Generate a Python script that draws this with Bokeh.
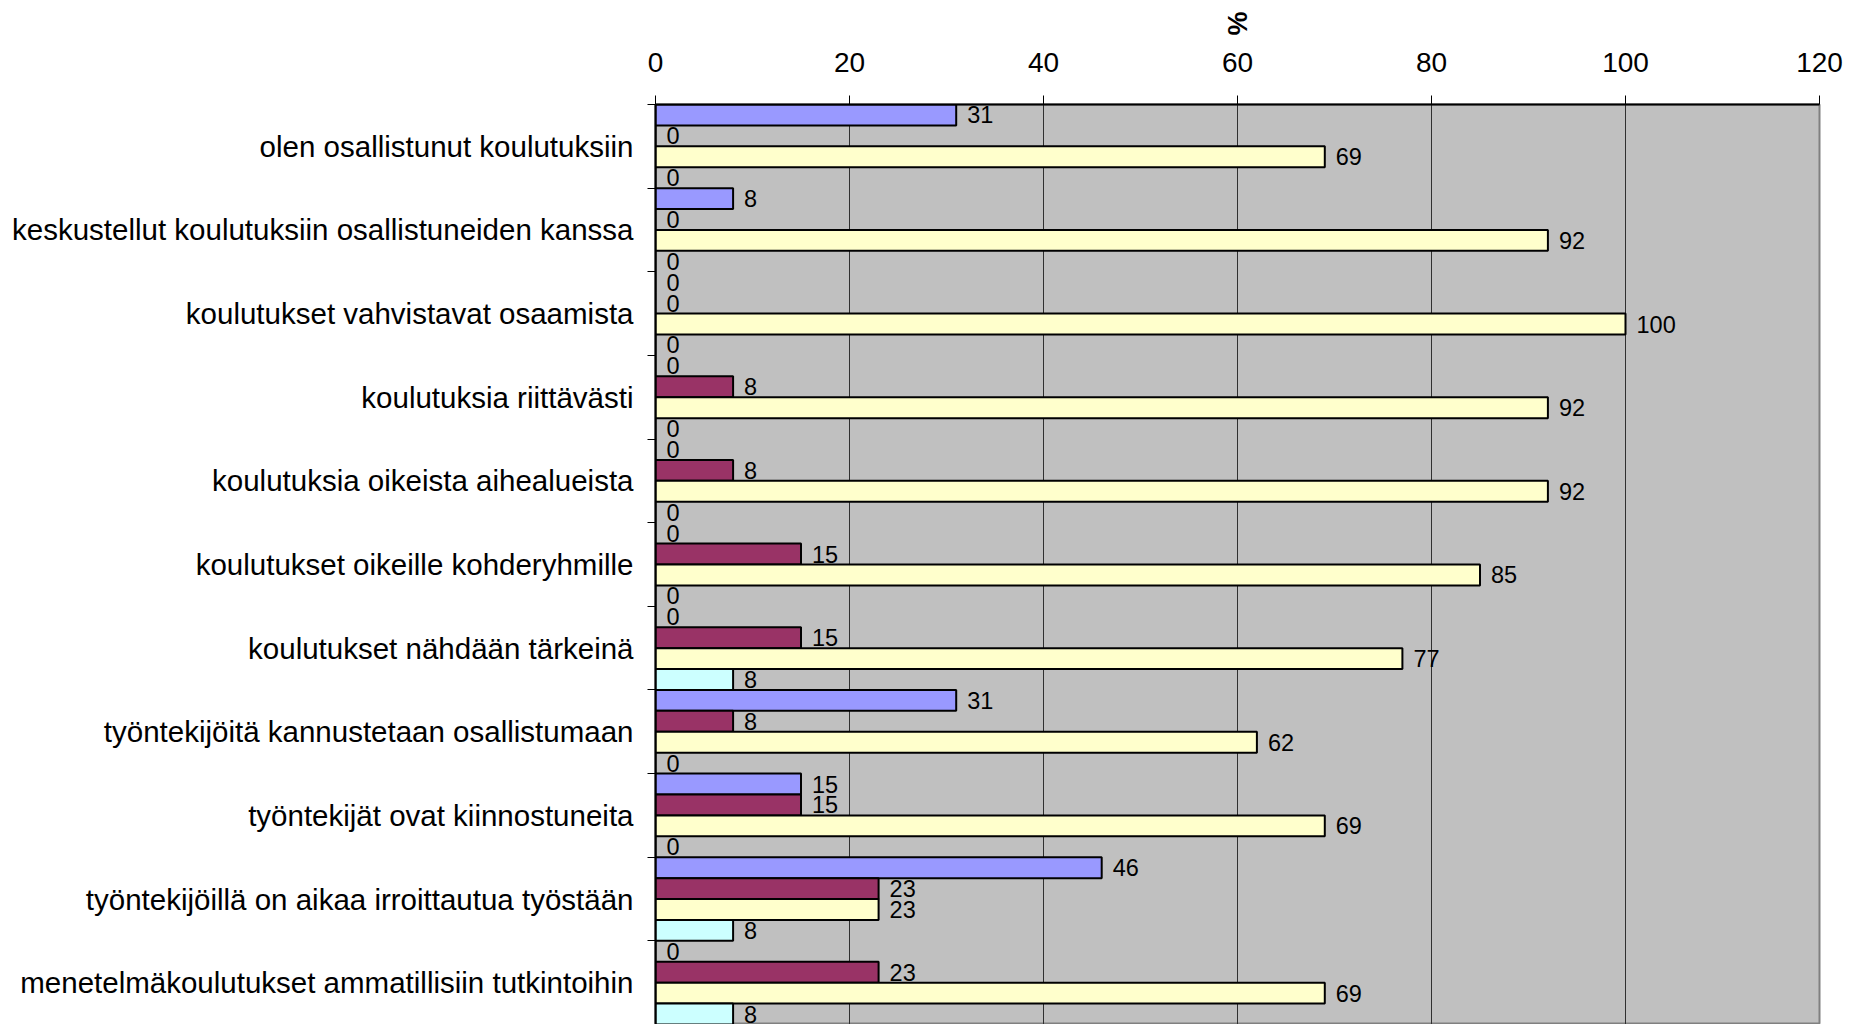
from bokeh.core.properties import value
from bokeh.embed import file_html
from bokeh.models import ColumnDataSource, FixedTicker, Range1d
from bokeh.plotting import figure
from bokeh.resources import INLINE

# Survey statements (top to bottom) and the four answer series, in percent
categories = [
    "olen osallistunut koulutuksiin",
    "keskustellut koulutuksiin osallistuneiden kanssa",
    "koulutukset vahvistavat osaamista",
    "koulutuksia riittävästi",
    "koulutuksia oikeista aihealueista",
    "koulutukset oikeille kohderyhmille",
    "koulutukset nähdään tärkeinä",
    "työntekijöitä kannustetaan osallistumaan",
    "työntekijät ovat kiinnostuneita",
    "työntekijöillä on aikaa irroittautua työstään",
    "menetelmäkoulutukset ammatillisiin tutkintoihin",
]
series_1 = [31, 8, 0, 0, 0, 0, 0, 31, 15, 46, 0]
series_2 = [0, 0, 0, 8, 8, 15, 15, 8, 15, 23, 23]
series_3 = [69, 92, 100, 92, 92, 85, 77, 62, 69, 23, 69]
series_4 = [0, 0, 0, 0, 0, 0, 8, 0, 0, 8, 8]
x_ticks = [0, 20, 40, 60, 80, 100, 120]

series = [series_1, series_2, series_3, series_4]
colors = ["#9999FF", "#993366", "#FFFFCC", "#CCFFFF"]
n_cat = len(categories)
n_ser = len(series)
slot = 1.0 / n_ser

FONT = value("Liberation Sans")

p = figure(
    width=1866,
    height=1024,
    x_range=Range1d(0, 120),
    y_range=Range1d(n_cat, 0),
    x_axis_location="above",
    output_backend="svg",
    toolbar_location=None,
    min_border_top=104,
    min_border_left=655,
    min_border_right=47,
    min_border_bottom=0,
)
p.background_fill_color = "#C0C0C0"
p.border_fill_color = "white"
p.outline_line_color = "#808080"
p.outline_line_width = 2

# bars: one horizontal band per category, four adjoining bars inside it
for k, vals in enumerate(series):
    ys = [i + (k + 0.5) * slot for i in range(n_cat)]
    src = ColumnDataSource(dict(y=ys, right=vals, label=[str(v) for v in vals]))
    p.hbar(y="y", left=0, right="right", height=slot, source=src,
           fill_color=colors[k], line_color="black", line_width=2)
    p.text(x="right", y="y", text="label", source=src, x_offset=11,
           text_align="left", text_baseline="middle",
           text_font=FONT, text_font_size="23.5px", text_color="black")

# value axis on top, with its unit as a turned title
xa = p.xaxis[0]
xa.ticker = FixedTicker(ticks=x_ticks)
xa.axis_label = "%"
xa.axis_label_orientation = "normal"
xa.axis_label_standoff = 14
xa.axis_label_text_font = "Liberation Sans"
xa.axis_label_text_font_style = "bold"
xa.axis_label_text_font_size = "27px"
xa.axis_label_text_color = "black"
xa.major_label_text_font = "Liberation Sans"
xa.major_label_text_font_size = "28px"
xa.major_label_text_color = "black"
xa.major_label_standoff = 24
xa.major_tick_out = 9
xa.major_tick_in = 0
xa.minor_tick_out = 0
xa.minor_tick_in = 0
xa.axis_line_color = "black"
xa.axis_line_width = 2
xa.major_tick_line_color = "black"

p.xgrid.grid_line_color = "#303030"
p.xgrid.grid_line_width = 1
p.ygrid.grid_line_color = None

# category axis: labels centred on each band, tick marks between bands
ya = p.yaxis[0]
ya.ticker = FixedTicker(ticks=[i + 0.5 for i in range(n_cat)],
                        minor_ticks=list(range(n_cat + 1)))
ya.major_label_overrides = {i + 0.5: c for i, c in enumerate(categories)}
ya.major_label_text_font = "Liberation Sans"
ya.major_label_text_font_size = "29.5px"
ya.major_label_text_color = "black"
ya.major_label_standoff = 14
ya.major_tick_out = 0
ya.major_tick_in = 0
ya.minor_tick_out = 8
ya.minor_tick_in = 0
ya.minor_tick_line_color = "black"
ya.axis_line_color = "black"
ya.axis_line_width = 2

open("out.html", "w").write(file_html(p, INLINE))
